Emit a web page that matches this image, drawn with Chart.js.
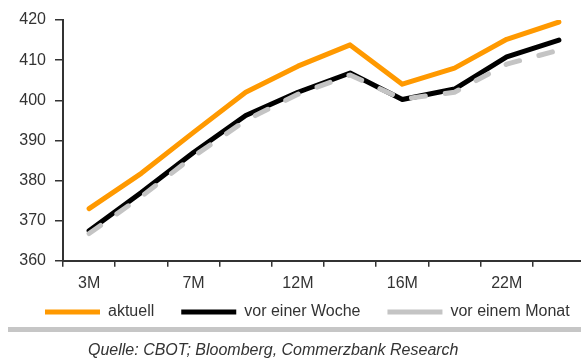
<!DOCTYPE html>
<html>
<head>
<meta charset="utf-8">
<title>Terminkurve</title>
<script src="https://cdn.jsdelivr.net/npm/chart.js@4/dist/chart.umd.min.js"></script>
<style>
  html, body { margin: 0; padding: 0; background: #fff; overflow: hidden; }
  #wrap { position: relative; width: 581px; height: 360px; overflow: hidden; }
  #box { position: absolute; left: 0; top: 0; width: 585px; height: 360px; }
  #rule { position: absolute; left: 8px; top: 327px; width: 573px; height: 5px; background: #c6c6c6; }
  #quelle { position: absolute; left: 88px; top: 340px; white-space: nowrap;
            font: italic 16px "Liberation Sans", Arial, sans-serif; line-height: 20px; color: #333; }
</style>
</head>
<body>
<div id="wrap">
  <div id="box"><canvas id="chart"></canvas></div>
  <div id="rule"></div>
  <div id="quelle">Quelle: CBOT; Bloomberg, Commerzbank Research</div>
</div>
<script>
// Kontrakte (nur jeder zweite ist beschriftet)
const categories = ['3M', '', '7M', '', '12M', '', '16M', '', '22M', ''];

// Werte
const aktuell       = [373.0, 381.8, 392.0, 402.0, 408.5, 413.8, 404.0, 408.0, 415.2, 419.5];
const vorEinerWoche = [367.5, 377.0, 387.0, 396.2, 402.0, 406.8, 400.2, 402.8, 410.8, 415.0];
const vorEinemMonat = [366.8, 376.0, 386.0, 395.0, 401.5, 406.3, 400.3, 402.0, 409.0, 412.5];

const yMin = 360, yMax = 420, yStep = 10;

const FONT = '"Liberation Sans", Arial, sans-serif';
const TEXT = '#333';
const AXIS = '#333';

// legend sits a bit off-centre in the original
const legendShift = {
  id: 'legendShift',
  afterLayout(chart) {
    const lg = chart.legend;
    if (!lg) return;
    lg.left += 18; lg.right += 18;
    lg.top -= 23; lg.bottom -= 23;
  }
};

const ctx = document.getElementById('chart').getContext('2d');
new Chart(ctx, {
  type: 'line',
  data: {
    labels: categories,
    datasets: [
      {
        label: 'aktuell',
        data: aktuell,
        borderColor: '#ff9900',
        backgroundColor: '#ff9900',
        borderWidth: 5,
        borderCapStyle: 'round',
        borderJoinStyle: 'round',
        order: 0
      },
      {
        label: 'vor einer Woche',
        data: vorEinerWoche,
        borderColor: '#000000',
        backgroundColor: '#000000',
        borderWidth: 5,
        borderCapStyle: 'round',
        borderJoinStyle: 'round',
        order: 2
      },
      {
        label: 'vor einem Monat',
        data: vorEinemMonat,
        borderColor: '#c4c4c4',
        backgroundColor: '#c4c4c4',
        borderWidth: 5,
        borderDash: [14, 20],
        borderCapStyle: 'round',
        borderJoinStyle: 'round',
        order: 1
      }
    ]
  },
  options: {
    responsive: true,
    maintainAspectRatio: false,
    animation: false,
    layout: { padding: { top: 20, right: 0, bottom: 7, left: 0 } },
    elements: { point: { radius: 0, hoverRadius: 0 }, line: { tension: 0 } },
    scales: {
      x: {
        offset: true,
        grid: { display: true, drawOnChartArea: false, offset: true, tickLength: 6, color: AXIS, lineWidth: 1.5 },
        border: { display: true, color: AXIS, width: 2 },
        ticks: { autoSkip: false, maxRotation: 0, padding: 7, color: TEXT, font: { family: FONT, size: 16 } }
      },
      y: {
        min: yMin,
        max: yMax,
        afterFit: (s) => { s.width = 63; },
        grid: { display: true, drawOnChartArea: false, tickLength: 8, color: AXIS, lineWidth: 1.5 },
        border: { display: true, color: AXIS, width: 2 },
        ticks: { stepSize: yStep, padding: 9, color: TEXT, font: { family: FONT, size: 16 } }
      }
    },
    plugins: {
      tooltip: { enabled: false },
      legend: {
        position: 'bottom',
        align: 'start',
        labels: {
          usePointStyle: true,
          pointStyle: 'line',
          pointStyleWidth: 55,
          padding: 27,
          color: TEXT,
          font: { family: FONT, size: 16 },
          sort: (a, b) => a.datasetIndex - b.datasetIndex
        }
      }
    }
  },
  plugins: [legendShift]
});
</script>
</body>
</html>
